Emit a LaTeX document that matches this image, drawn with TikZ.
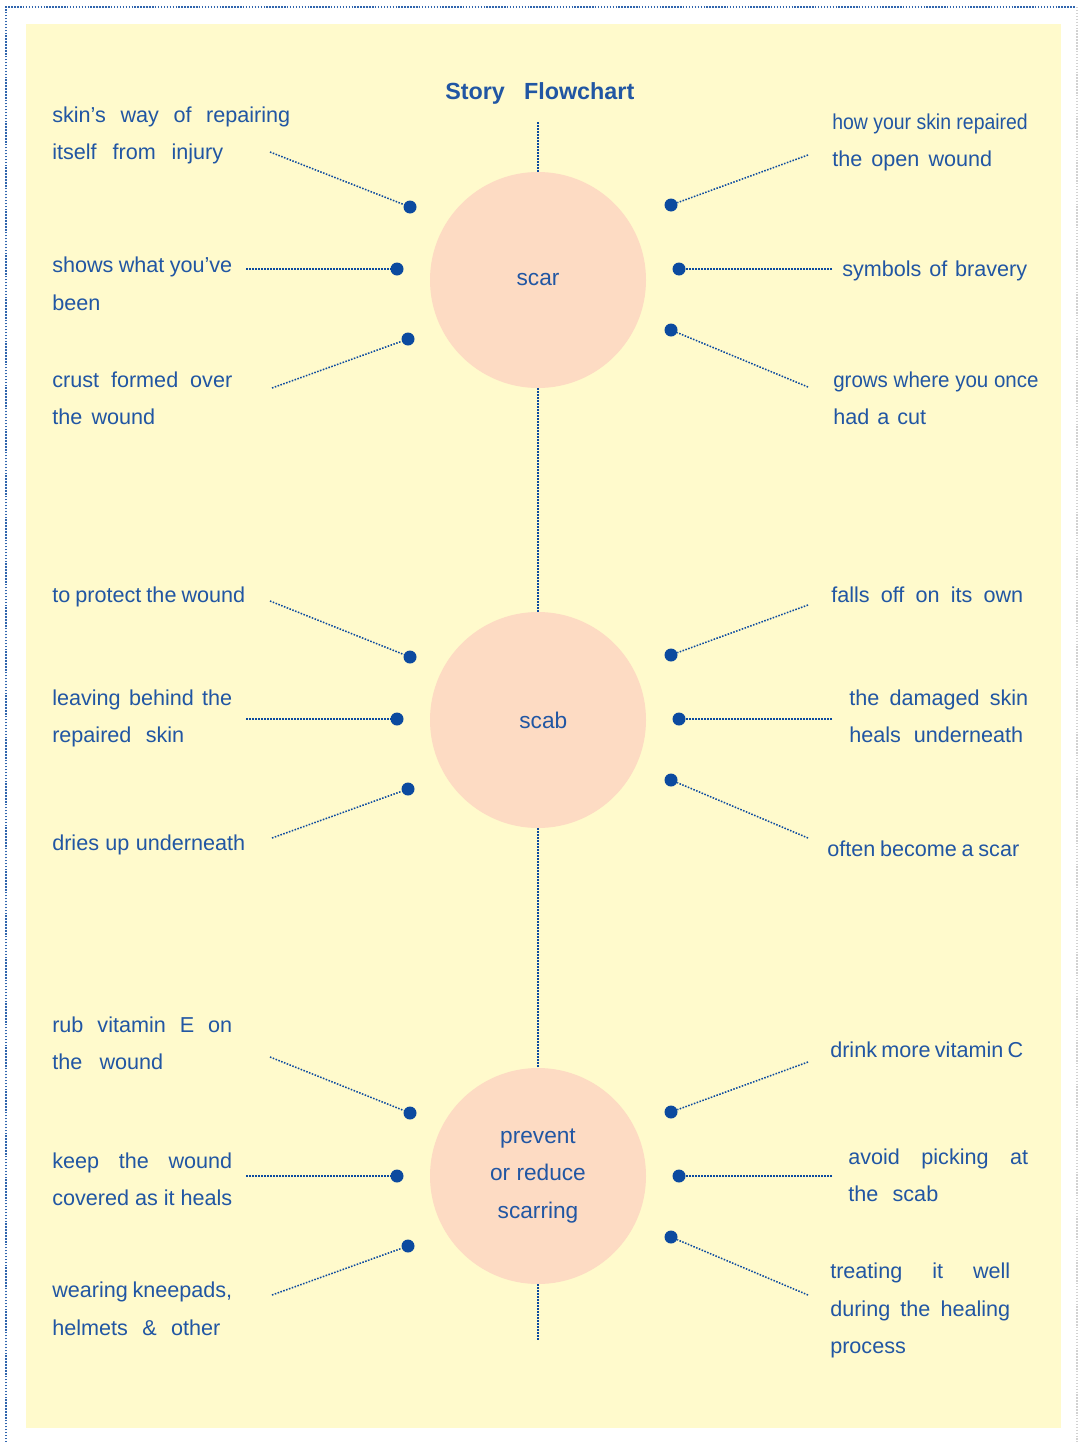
\documentclass[tikz,border=0pt]{standalone}
\usepackage{fontspec}
\usepackage{graphicx}
\setmainfont{Liberation Sans}
\definecolor{bgyellow}{HTML}{FFFACC}
\definecolor{peach}{HTML}{FDDBC3}
\definecolor{textblue}{HTML}{2156A3}
\definecolor{dotblue}{HTML}{0C4A9F}
\newlength\pxu \setlength\pxu{0.75pt}
\newcommand\jline[2]{\makebox[#1\pxu][s]{#2}}
\tikzset{
  txt/.style={anchor=base west, inner sep=0pt, text=textblue, font=\fontsize{16.2}{18}\selectfont},
  circ/.style={circle, fill=peach, minimum size=162pt, inner sep=0pt, text=textblue, font=\fontsize{17}{28}\selectfont, align=center},
  bullet/.style={circle, fill=dotblue, minimum size=9.75pt, inner sep=0pt},
  conn/.style={draw=dotblue, line width=1.15pt, dash pattern=on 1.15pt off 1.1pt},
}
\begin{document}
\begin{tikzpicture}[x=0.75pt,y=-0.75pt]
\useasboundingbox (0,0) rectangle (1078,1442);
\fill[white] (0,0) rectangle (1078,1442);
\fill[bgyellow] (26,24) rectangle (1061,1428);
\draw[dotblue!85, line width=1.3pt, dash pattern=on 1.1pt off 1.1pt] (6,1442) -- (6,7) -- (1075,7);
\draw[gray!35, line width=0.8pt, dash pattern=on 1.1pt off 1.1pt] (1077,7) -- (1077,1442);

% title
\node[txt, font=\bfseries\fontsize{17.5}{20}\selectfont] (title) at (445,99) {\jline{189}{Story Flowchart}};

% circles
\node[circ] (scar) at (538,280) {scar};
\node[circ] (scab) at (538,720) {\hspace*{8pt}scab};
\node[circ] (prev) at (538,1176) {prevent\\or reduce\\scarring};

% spine
\coordinate (top) at (538,122);
\coordinate (bot) at (538,1340);
\draw[conn] (top) -- (scar.north);
\draw[conn] (scar.south) -- (scab.north);
\draw[conn] (scab.south) -- (prev.north);
\draw[conn] (prev.south) -- (bot);

% bullets
\node[bullet] (aL1) at (410,207) {};
\node[bullet] (aL2) at (397,269) {};
\node[bullet] (aL3) at (408,339) {};
\node[bullet] (aR1) at (671,205) {};
\node[bullet] (aR2) at (679,269) {};
\node[bullet] (aR3) at (671,330) {};
\node[bullet] (bL1) at (410,657) {};
\node[bullet] (bL2) at (397,719) {};
\node[bullet] (bL3) at (408,789) {};
\node[bullet] (bR1) at (671,655) {};
\node[bullet] (bR2) at (679,719) {};
\node[bullet] (bR3) at (671,780) {};
\node[bullet] (cL1) at (410,1113) {};
\node[bullet] (cL2) at (397,1176) {};
\node[bullet] (cL3) at (408,1246) {};
\node[bullet] (cR1) at (671,1112) {};
\node[bullet] (cR2) at (679,1176) {};
\node[bullet] (cR3) at (671,1237) {};

% connector ends
\coordinate (eaL1) at (270,152);
\coordinate (eaL2) at (246,269);
\coordinate (eaL3) at (272,388);
\coordinate (eaR1) at (808,155);
\coordinate (eaR2) at (832,269);
\coordinate (eaR3) at (808,387);
\coordinate (ebL1) at (270,601);
\coordinate (ebL2) at (246,719);
\coordinate (ebL3) at (272,838);
\coordinate (ebR1) at (808,605);
\coordinate (ebR2) at (832,719);
\coordinate (ebR3) at (808,838);
\coordinate (ecL1) at (270,1057);
\coordinate (ecL2) at (246,1176);
\coordinate (ecL3) at (272,1295);
\coordinate (ecR1) at (808,1062);
\coordinate (ecR2) at (832,1176);
\coordinate (ecR3) at (808,1295);

\foreach \g in {a,b,c}{
  \foreach \s in {L1,L2,L3,R1,R2,R3}{
    \draw[conn] (e\g\s) -- (\g\s);
  }
}

% scar texts
\node[txt] (t1a) at (52,122) {\jline{238}{skin's way of repairing}};
\node[txt] (t1b) at (52,159) {\jline{171}{itself from injury}};
\node[txt] (t2a) at (52,272) {\jline{180}{shows what you've}};
\node[txt] (t2b) at (52,310) {been};
\node[txt] (t3a) at (52,387) {\jline{180}{crust formed over}};
\node[txt] (t3b) at (52,424) {\jline{103}{the wound}};
\node[txt] (t4a) at (832,129) {\scalebox{0.9}[1]{how your skin repaired}};
\node[txt] (t4b) at (832,166) {\jline{160}{the open wound}};
\node[txt] (t5a) at (842,276) {\jline{185}{symbols of bravery}};
\node[txt] (t6a) at (833,387) {\scalebox{0.95}[1]{grows where you once}};
\node[txt] (t6b) at (833,424) {\jline{93}{had a cut}};

% scab texts
\node[txt] (u1a) at (52,602) {\jline{193}{to protect the wound}};
\node[txt] (u2a) at (52,705) {\jline{180}{leaving behind the}};
\node[txt] (u2b) at (52,742) {\jline{132}{repaired skin}};
\node[txt] (u3a) at (52,850) {\jline{193}{dries up underneath}};
\node[txt] (u4a) at (831,602) {\jline{192}{falls off on its own}};
\node[txt] (u5a) at (849,705) {\jline{179}{the damaged skin}};
\node[txt] (u5b) at (849,742) {\jline{174}{heals underneath}};
\node[txt] (u6a) at (827,856) {\jline{192}{often become a scar}};

% prevent texts
\node[txt] (v1a) at (52,1032) {\jline{180}{rub vitamin E on}};
\node[txt] (v1b) at (52,1069) {\jline{111}{the wound}};
\node[txt] (v2a) at (52,1168) {\jline{180}{keep the wound}};
\node[txt] (v2b) at (52,1205) {\jline{180}{covered as it heals}};
\node[txt] (v3a) at (52,1297) {\jline{180}{wearing kneepads,}};
\node[txt] (v3b) at (52,1335) {\jline{168}{helmets \& other}};
\node[txt] (v4a) at (830,1057) {\jline{193}{drink more vitamin C}};
\node[txt] (v5a) at (848,1164) {\jline{180}{avoid picking at}};
\node[txt] (v5b) at (848,1201) {\jline{90}{the scab}};
\node[txt] (v6a) at (830,1278) {\jline{180}{treating it well}};
\node[txt] (v6b) at (830,1316) {\jline{180}{during the healing}};
\node[txt] (v6c) at (830,1353) {process};
\end{tikzpicture}
\end{document}
